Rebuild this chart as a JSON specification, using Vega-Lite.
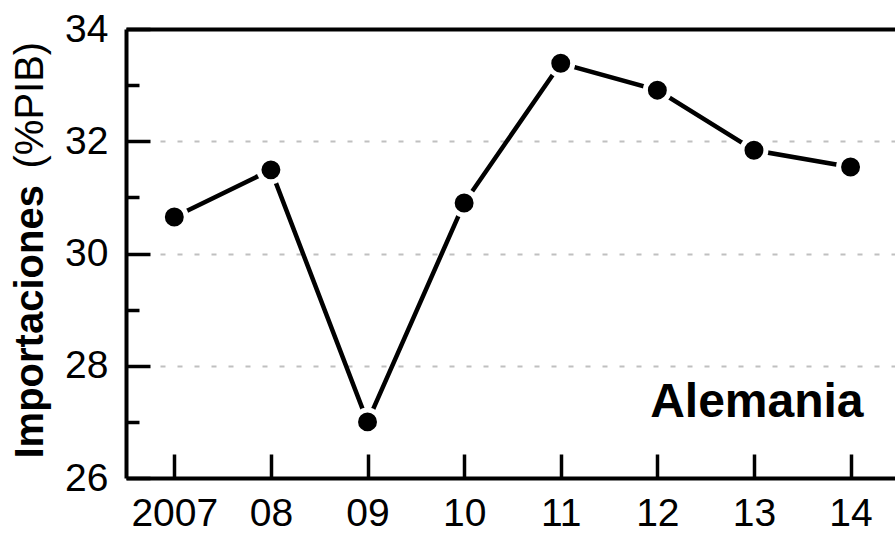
{
  "$schema": "https://vega.github.io/schema/vega-lite/v6.json",
  "width": 769,
  "height": 449,
  "autosize": {"type": "none"},
  "padding": {"left": 126, "top": 29, "right": 0, "bottom": 60},
  "background": "white",
  "config": {"view": {"stroke": null}, "font": "Liberation Sans"},
  "data": {
    "values": [
      {"year": 2007, "value": 30.65},
      {"year": 2008, "value": 31.49},
      {"year": 2009, "value": 27.0},
      {"year": 2010, "value": 30.90},
      {"year": 2011, "value": 33.39},
      {"year": 2012, "value": 32.91},
      {"year": 2013, "value": 31.84},
      {"year": 2014, "value": 31.54}
    ]
  },
  "layer": [
    {
      "mark": {"type": "line", "color": "black", "strokeWidth": 4.5},
      "encoding": {
        "x": {
          "field": "year", "type": "quantitative",
          "scale": {"domain": [2006.5, 2014.46], "nice": false, "zero": false},
          "axis": {
            "values": [2007, 2008, 2009, 2010, 2011, 2012, 2013, 2014],
            "labelExpr": "datum.value === 2007 ? '2007' : substring(toString(datum.value), 2, 4)",
            "tickSize": -24, "tickWidth": 3.5, "tickColor": "black",
            "domainColor": "black", "domainWidth": 4,
            "labelFont": "Liberation Sans", "labelFontSize": 39, "labelColor": "black",
            "labelPadding": 40, "labelFlush": false, "labelOverlap": false,
            "grid": false, "title": null
          }
        },
        "y": {
          "field": "value", "type": "quantitative",
          "scale": {"domain": [26, 34], "nice": false, "zero": false},
          "axis": {
            "values": [26, 27, 28, 29, 30, 31, 32, 33, 34],
            "domainColor": "black", "domainWidth": 4,
            "tickColor": "black", "tickWidth": 3.5,
            "tickSize": {"condition": {"test": "datum.value % 2 !== 0", "value": -13}, "value": -24},
            "labelExpr": "datum.value % 2 === 0 ? datum.label : ''",
            "labelFont": "Liberation Sans", "labelFontSize": 39, "labelColor": "black",
            "labelPadding": 42, "labelFlush": false, "labelOverlap": false,
            "grid": true, "gridColor": "#c0c0c0", "gridWidth": 2, "gridDash": [5, 12],
            "gridOpacity": {"condition": {"test": "datum.value % 2 !== 0 || datum.value === 26 || datum.value === 34", "value": 0}, "value": 1},
            "title": "Importaciones", "titleFont": "Liberation Sans", "titleFontSize": 40,
            "titleFontWeight": "bold", "titleColor": "black",
            "titleAngle": 270, "titleAlign": "left", "titleBaseline": "alphabetic",
            "titleX": -84, "titleY": 429
          }
        }
      }
    },
    {
      "mark": {"type": "point", "shape": "circle", "filled": true, "fill": "black", "stroke": "white", "strokeWidth": 5, "size": 573, "opacity": 1},
      "encoding": {
        "x": {"field": "year", "type": "quantitative", "scale": {"domain": [2006.5, 2014.46], "nice": false, "zero": false}, "axis": null},
        "y": {"field": "value", "type": "quantitative", "scale": {"domain": [26, 34], "nice": false, "zero": false}, "axis": null}
      }
    },
    {
      "data": {"values": [{"label": "Alemania"}]},
      "mark": {"type": "text", "fontSize": 48, "fontWeight": "bold", "font": "Liberation Sans", "align": "center", "baseline": "alphabetic", "color": "black"},
      "encoding": {
        "text": {"field": "label"},
        "x": {
          "datum": 2013.03, "type": "quantitative",
          "scale": {"domain": [2006.5, 2014.46], "nice": false, "zero": false},
          "axis": {"orient": "top", "domain": true, "domainColor": "black", "domainWidth": 4, "ticks": false, "labels": false, "grid": false, "title": null}
        },
        "y": {
          "datum": 27.087, "type": "quantitative",
          "scale": {"domain": [26, 34], "nice": false, "zero": false},
          "axis": {
            "orient": "left", "domain": false, "ticks": false, "labels": false, "grid": false,
            "title": "(%PIB)", "titleFont": "Liberation Sans", "titleFontSize": 40,
            "titleFontWeight": "normal", "titleColor": "black",
            "titleAngle": 270, "titleAlign": "left", "titleBaseline": "alphabetic",
            "titleX": -84, "titleY": 139
          }
        }
      }
    }
  ],
  "resolve": {"axis": {"x": "independent", "y": "independent"}}
}
